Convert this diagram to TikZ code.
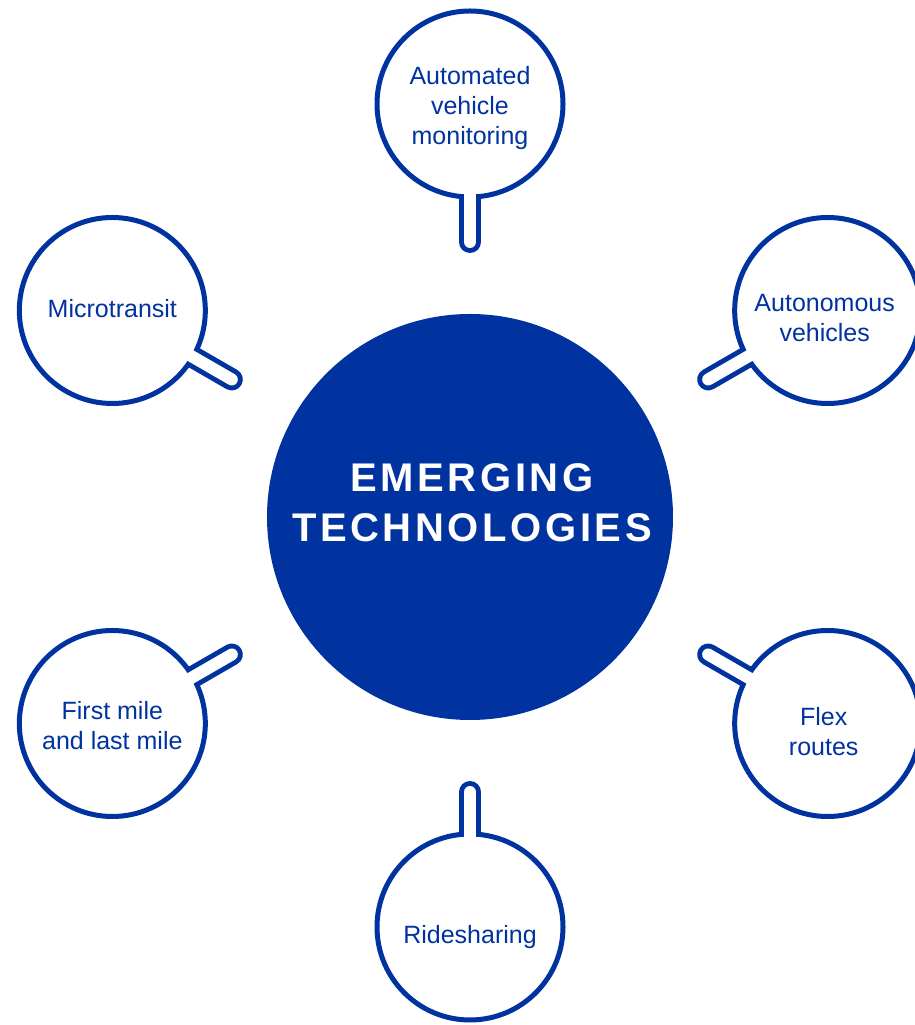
\documentclass[tikz,border=0pt]{standalone}
\usepackage{fontspec}
\setmainfont{Liberation Sans}
\newfontfamily\titlefont[LetterSpace=9]{Liberation Sans}
\usepackage{tikz}
\usetikzlibrary{positioning,calc,backgrounds}
\definecolor{techblue}{HTML}{0033A0}

\tikzset{
  hub/.style={circle, fill=techblue, minimum size=406pt, inner sep=0pt},
  hubtext/.style={text=white, align=center, font=\fontsize{40}{50}\selectfont\titlefont\bfseries},
  bubble/.style={circle, draw=techblue, line width=5pt, fill=white, minimum size=186pt, inner sep=0pt},
  bubbletext/.style={align=center, text=techblue, font=\fontsize{25}{30}\selectfont},
  stemout/.style={draw=techblue, line width=22pt, line cap=round},
  stemin/.style={draw=white, line width=12pt, line cap=round}
}

\begin{document}
\begin{tikzpicture}[x=1pt, y=1pt]
  \useasboundingbox (0,0) rectangle (914,1025);

  % Central hub
  \node[hub] (hub) at (470,508) {};
  \node[hubtext] (title) at (472,522) {EMERGING\\TECHNOLOGIES};

  % Satellite bubbles, hexagon round the hub
  \node[bubble] (monitor) at ($(hub)+(90:413)$) {};
  \node[bubble] (auto) at ($(hub)+(30:413)$) {};
  \node[bubble] (flex) at ($(hub)+(-30:413)$) {};
  \node[bubble] (ride) at ($(hub)+(-90:410)$) {};
  \node[bubble] (lastmile) at ($(hub)+(210:413)$) {};
  \node[bubble] (micro) at ($(hub)+(150:413)$) {};

  % Bubble labels
  \node[bubbletext] (monitorText) at ($(monitor)+(0,-4)$) {Automated\\vehicle\\monitoring};
  \node[bubbletext] (autoText) at ($(auto)+(-3,-8)$) {Autonomous\\vehicles};
  \node[bubbletext] (flexText) at ($(flex)+(-4,-8)$) {Flex\\routes};
  \node[bubbletext] (rideText) at ($(ride)+(0,-10)$) {Ridesharing};
  \node[bubbletext] (lastmileText) at ($(lastmile)+(0,-2)$) {First mile\\and last mile};
  \node[bubbletext] (microText) at ($(micro)+(0,2)$) {Microtransit};

  % Handle tips
  \coordinate (monitorTip) at ($(hub)+(90:275)$);
  \coordinate (autoTip) at ($(hub)+(30:275)$);
  \coordinate (flexTip) at ($(hub)+(-30:275)$);
  \coordinate (rideTip) at ($(hub)+(-90:275)$);
  \coordinate (lastmileTip) at ($(hub)+(210:275)$);
  \coordinate (microTip) at ($(hub)+(150:275)$);

  % Handles: outer rim behind the bubbles
  \begin{scope}[on background layer]
    \draw[stemout] (monitor.center) -- (monitorTip);
    \draw[stemout] (auto.center) -- (autoTip);
    \draw[stemout] (flex.center) -- (flexTip);
    \draw[stemout] (ride.center) -- (rideTip);
    \draw[stemout] (lastmile.center) -- (lastmileTip);
    \draw[stemout] (micro.center) -- (microTip);
  \end{scope}

  % Handles: hollow inside, opening into the bubble
  \draw[stemin] ($(monitor.center)!86pt!(monitorTip)$) -- (monitorTip);
  \draw[stemin] ($(auto.center)!86pt!(autoTip)$) -- (autoTip);
  \draw[stemin] ($(flex.center)!86pt!(flexTip)$) -- (flexTip);
  \draw[stemin] ($(ride.center)!86pt!(rideTip)$) -- (rideTip);
  \draw[stemin] ($(lastmile.center)!86pt!(lastmileTip)$) -- (lastmileTip);
  \draw[stemin] ($(micro.center)!86pt!(microTip)$) -- (microTip);
\end{tikzpicture}
\end{document}
